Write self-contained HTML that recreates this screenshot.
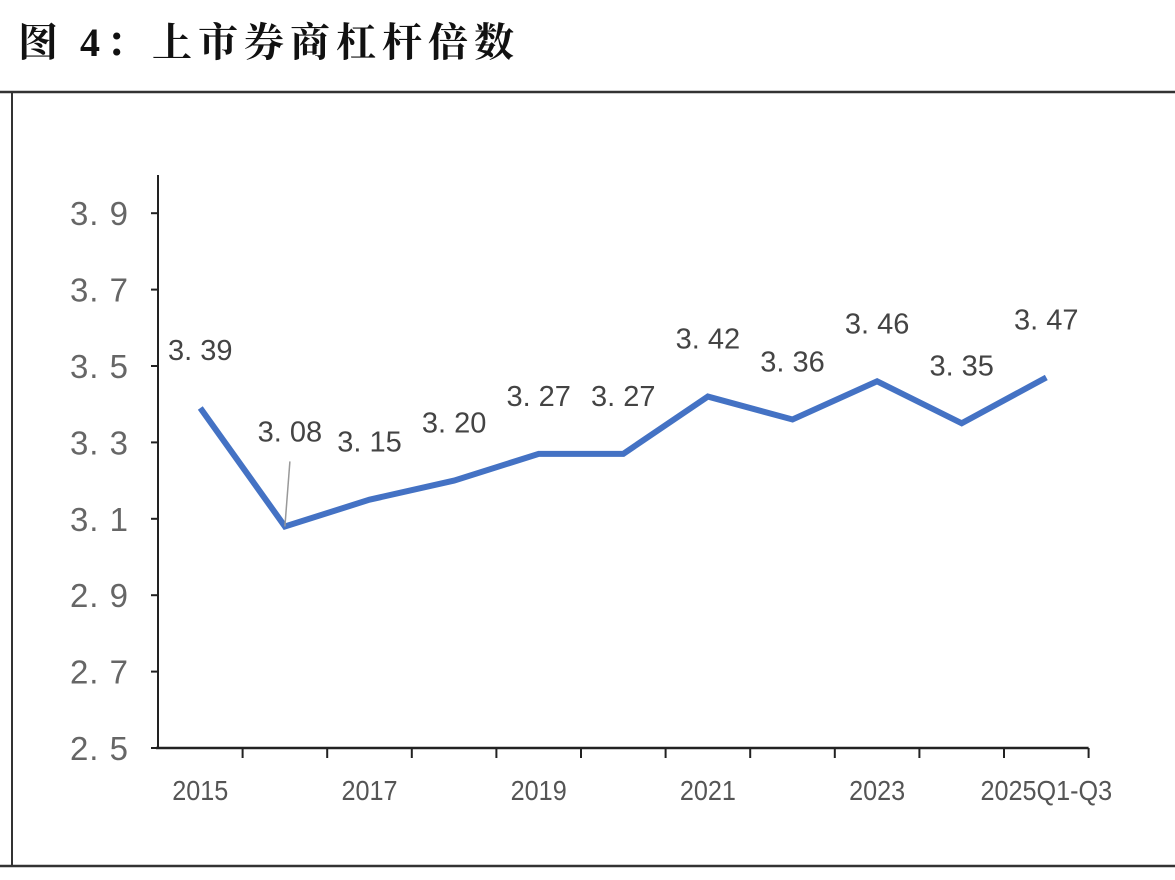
<!DOCTYPE html>
<html><head><meta charset="utf-8"><style>
body{margin:0;background:#fff;width:1175px;height:875px;overflow:hidden}
</style></head><body>
<svg width="1175" height="875" xmlns="http://www.w3.org/2000/svg">
<text x="18" y="56" font-family="'Liberation Serif','Noto Serif CJK SC',serif" font-size="40" letter-spacing="6" font-weight="bold" fill="#111">图 4：上市券商杠杆倍数</text>
<line x1="0" y1="92" x2="1175" y2="92" stroke="#333" stroke-width="2.5"/>
<line x1="12" y1="92" x2="12" y2="866" stroke="#333" stroke-width="2"/>
<line x1="0" y1="866" x2="1175" y2="866" stroke="#333" stroke-width="2.5"/>
<g id="plot"></g>
</svg>
<script>
const categories=["2015","2016","2017","2018","2019","2020","2021","2022","2023","2024","2025Q1-Q3"];
const values=[3.39,3.08,3.15,3.20,3.27,3.27,3.42,3.36,3.46,3.35,3.47];
const valueLabels=["3. 39","3. 08","3. 15","3. 20","3. 27","3. 27","3. 42","3. 36","3. 46","3. 35","3. 47"];
const yTicks=[2.5,2.7,2.9,3.1,3.3,3.5,3.7,3.9];
const yTickLabels=["2. 5","2. 7","2. 9","3. 1","3. 3","3. 5","3. 7","3. 9"];
const NS="http://www.w3.org/2000/svg";
const g=document.getElementById('plot');
const x0=158,bw=84.6,yBase=748,pxPer=382;
const yS=v=>yBase-(v-2.5)*pxPer;
const xS=i=>x0+bw*(i+0.5);
function mk(t,a,txt){const e=document.createElementNS(NS,t);for(const k in a)e.setAttribute(k,a[k]);if(txt!==undefined)e.textContent=txt;g.appendChild(e);return e;}
let e=mk('line',{x1:x0,y1:175,x2:x0,y2:yBase,stroke:'#222','stroke-width':2});


yTicks.forEach((v,i)=>{
 let t=mk('line',{x1:x0-7,y1:yS(v),x2:x0,y2:yS(v),stroke:'#222','stroke-width':2});
 
 
 let l=mk('text',{x:129,y:yS(v)+12,'text-anchor':'end','font-family':'Liberation Sans, sans-serif','font-size':33,'letter-spacing':1,fill:'#666'},yTickLabels[i]);
 
 
});
e=mk('line',{x1:x0-2,y1:yBase,x2:x0+bw*categories.length,y2:yBase,stroke:'#222','stroke-width':2.5});


categories.forEach((c,i)=>{
 let t=mk('line',{x1:x0+bw*(i+1),y1:yBase,x2:x0+bw*(i+1),y2:yBase+10,stroke:'#222','stroke-width':2});
 
 
 if(i%2===0){
  let l=mk('text',{x:xS(i),y:800,'text-anchor':'middle','font-family':'Liberation Sans, sans-serif','font-size':28,fill:'#555',transform:`translate(${xS(i)*0.1},0) scale(0.9,1)`},c);
  
  
 }
});
const pts=values.map((v,i)=>xS(i)+','+yS(v)).join(' ');
e=mk('polyline',{points:pts,fill:'none',stroke:'#4472C4','stroke-width':6,'stroke-linejoin':'miter'});


e=mk('line',{x1:xS(1)+5,y1:yS(values[1])-65,x2:xS(1),y2:yS(values[1]),stroke:'#999','stroke-width':1.5});


const off=[[0,-48],[5,-85],[0,-48],[0,-48],[0,-48],[0,-48],[0,-48],[0,-48],[0,-48],[0,-48],[0,-48]];
values.forEach((v,i)=>{
 let l=mk('text',{x:xS(i)+off[i][0],y:yS(v)+off[i][1],'text-anchor':'middle','font-family':'Liberation Sans, sans-serif','font-size':29,fill:'#444'},valueLabels[i]);
 
 
});
</script>
</body></html>
